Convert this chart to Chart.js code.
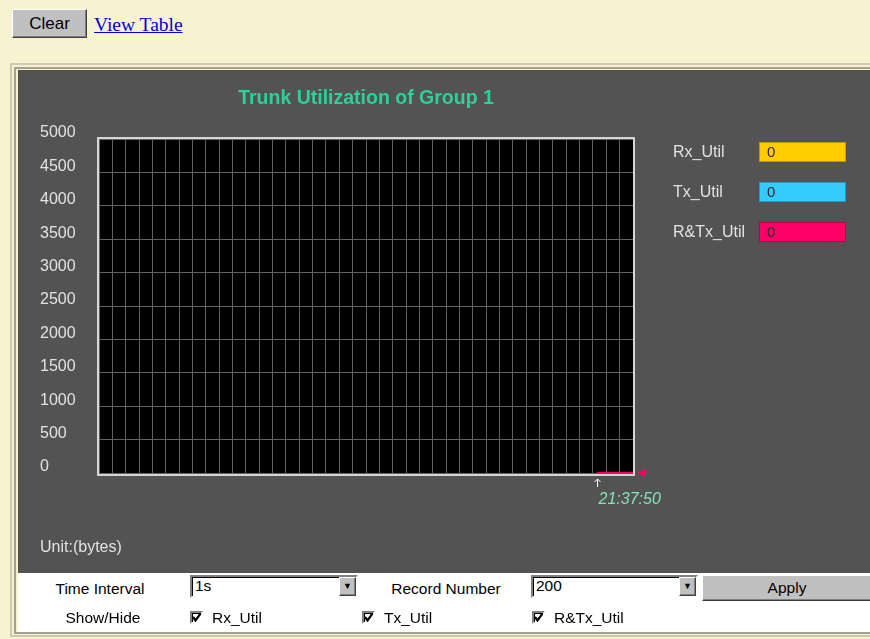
<!DOCTYPE html>
<html>
<head>
<meta charset="utf-8">
<title>Trunk Utilization of Group 1</title>
<script src="https://cdn.jsdelivr.net/npm/chart.js@4.4.1/dist/chart.umd.min.js"></script>
<style>
  body { margin: 0; width: 870px; height: 639px; overflow: hidden; position: relative;
         background: #f7f2cf; font-family: Arial, "Liberation Sans", sans-serif; }
  .abs { position: absolute; }
  .raised { background: #c0c0c0; border: 1px solid; border-color: #fff #404040 #404040 #fff;
            box-shadow: inset -1px -1px #808080; text-align: center; color: #000; box-sizing: border-box; }
  .sunken { background: #fff; border: 2px solid; border-color: #808080 #fff #fff #808080;
            box-shadow: inset 1px 1px #000; box-sizing: border-box; }
  .ctl { font-size: 15.5px; color: #000; white-space: nowrap; }
  .light { color: #e2e2e2; font-size: 16px; white-space: nowrap; }
</style>
</head>
<body>
<div class="abs raised" style="left:12px;top:9px;width:75px;height:29px;line-height:27px;font-size:17px;">Clear</div>
<div class="abs" style="left:94px;top:14px;font-family:'Liberation Serif','Times New Roman',serif;font-size:19.5px;color:#0000ee;text-decoration:underline;">View Table</div>

<div class="abs" style="left:10px;top:63px;width:880px;height:570px;border:2px solid #cbc8b4;"></div>
<div class="abs" style="left:14px;top:67px;width:880px;height:563px;border:2px solid #a3a196;"></div>
<div class="abs" style="left:18px;top:70px;width:852px;height:503px;background:#535353;"></div>
<div class="abs" style="left:18px;top:573px;width:852px;height:59px;background:#fff;"></div>

<canvas id="trunkChart" class="abs" style="left:18px;top:70px;" width="852" height="503"></canvas>

<div id="legendBox"></div>
<div class="abs light" style="left:40px;top:538px;">Unit:(bytes)</div>

<div class="abs ctl" style="left:40px;top:580px;width:120px;text-align:center;">Time Interval</div>
<div class="abs sunken ctl" style="left:190px;top:575px;width:168px;height:23px;line-height:18px;padding-left:3px;">
  <span id="intervalText"></span>
  <div class="abs raised" style="right:0px;top:0px;width:17px;height:19px;font-size:9px;line-height:17px;">&#9660;</div>
</div>
<div class="abs ctl" style="left:386px;top:580px;width:120px;text-align:center;">Record Number</div>
<div class="abs sunken ctl" style="left:531px;top:575px;width:167px;height:23px;line-height:18px;padding-left:3px;">
  <span id="recordText"></span>
  <div class="abs raised" style="right:0px;top:0px;width:17px;height:19px;font-size:9px;line-height:17px;">&#9660;</div>
</div>
<div class="abs raised ctl" style="left:702px;top:575px;width:170px;height:26px;line-height:24px;">Apply</div>
<div class="abs ctl" style="left:43px;top:609px;width:120px;text-align:center;">Show/Hide</div>
<div id="checkRow"></div>

<script>
// series shown in the graph
const seriesNames = ["Rx_Util", "Tx_Util", "R&Tx_Util"];
const seriesColors = ["#ffcc00", "#33ccff", "#ff0066"];

// sample positions along the 40-column time window
const sampleX = [37.3, 38.3, 39.3, 40];
const rxUtil = [0, 0, 0, 0];
const txUtil = [0, 0, 0, 0];
const rtxUtil = [0, 0, 0, 0];

const yTickLabels = ["0", "500", "1000", "1500", "2000", "2500", "3000", "3500", "4000", "4500", "5000"];
const timeLabel = "21:37:50";
const timeInterval = "1s";
const recordNumber = "200";

const seriesValues = [rxUtil, txUtil, rtxUtil];

// legend boxes with the current value
var legendHtml = "";
seriesNames.forEach(function (name, i) {
  var vals = seriesValues[i];
  var top = 142 + i * 40;
  legendHtml += '<div class="abs light" style="left:673px;top:' + (top + 1) + 'px;">' + name.replace("&", "&amp;") + '</div>';
  legendHtml += '<div class="abs" style="left:759px;top:' + top + 'px;width:87px;height:20px;box-sizing:border-box;border:1px solid rgba(0,0,0,0.25);background:' +
    seriesColors[i] + ';font-size:15px;line-height:18px;padding-left:7px;color:#3a2a2a;">' + vals[vals.length - 1] + '</div>';
});
document.getElementById("legendBox").innerHTML = legendHtml;

document.getElementById("intervalText").textContent = timeInterval;
document.getElementById("recordText").textContent = recordNumber;

// show/hide checkboxes
var checkX = [190, 362, 532];
var checkHtml = "";
seriesNames.forEach(function (name, i) {
  checkHtml += '<div class="abs sunken" style="left:' + checkX[i] + 'px;top:611px;width:13px;height:13px;">' +
    '<svg width="9" height="9" style="position:absolute;left:0;top:0"><path d="M1 4 L3.5 7.5 L8.5 0.5" stroke="#000" stroke-width="2.2" fill="none"/></svg></div>';
  checkHtml += '<div class="abs ctl" style="left:' + (checkX[i] + 22) + 'px;top:609px;">' + name.replace("&", "&amp;") + '</div>';
});
document.getElementById("checkRow").innerHTML = checkHtml;

// black plot area, frame, current value marker and time stamp
const plotFrame = {
  id: "plotFrame",
  beforeDraw(chart) {
    const { ctx, chartArea: a } = chart;
    ctx.save();
    ctx.fillStyle = "#000";
    ctx.fillRect(a.left, a.top, a.width, a.height);
    ctx.restore();
  },
  beforeDatasetsDraw(chart) {
    const { ctx, chartArea: a } = chart;
    ctx.save();
    ctx.strokeStyle = "#d6d6d6";
    ctx.lineWidth = 2;
    ctx.strokeRect(a.left - 1, a.top - 1, a.width + 2, a.height + 3);
    ctx.restore();
  },
  afterDraw(chart) {
    const { ctx, chartArea: a, scales } = chart;
    ctx.save();
    // marker for last R&Tx value
    const my = scales.y.getPixelForValue(rtxUtil[rtxUtil.length - 1]);
    ctx.fillStyle = seriesColors[2];
    ctx.beginPath();
    ctx.moveTo(a.right + 4, my);
    ctx.lineTo(a.right + 13, my - 4);
    ctx.lineTo(a.right + 13, my + 4);
    ctx.closePath();
    ctx.fill();
    // arrow under the first sample
    const tx = Math.round(scales.x.getPixelForValue(sampleX[0])) + 0.5;
    ctx.strokeStyle = "#ffffff";
    ctx.lineWidth = 1;
    ctx.beginPath();
    ctx.moveTo(tx, a.bottom + 6);
    ctx.lineTo(tx, a.bottom + 14);
    ctx.moveTo(tx - 3, a.bottom + 9);
    ctx.lineTo(tx, a.bottom + 6);
    ctx.lineTo(tx + 3, a.bottom + 9);
    ctx.stroke();
    ctx.fillStyle = "#88e0b8";
    ctx.font = "italic 16px Arial, 'Liberation Sans', sans-serif";
    ctx.textAlign = "left";
    ctx.textBaseline = "middle";
    ctx.fillText(timeLabel, tx + 1, a.bottom + 27);
    ctx.restore();
  },
};

var ctx = document.getElementById("trunkChart").getContext("2d");
var trunkChart = new Chart(ctx, {
  type: "line",
  data: {
    datasets: seriesNames.map(function (name, i) {
      return {
        label: name,
        data: sampleX.map(function (x, k) { return { x: x, y: seriesValues[i][k] }; }),
        borderColor: seriesColors[i],
        borderWidth: 2,
        pointRadius: 0,
        fill: false,
        clip: false,
        order: seriesNames.length - i,
      };
    }),
  },
  options: {
    responsive: false,
    animation: false,
    layout: { padding: { left: 22, right: 237, bottom: 100, top: 0 } },
    plugins: {
      legend: { display: false },
      tooltip: { enabled: false },
      title: {
        display: true,
        text: "Trunk Utilization of Group 1",
        color: "#2fcf9a",
        fullSize: false,
        font: { family: "Arial, 'Liberation Sans', sans-serif", size: 19.5, weight: "bold" },
        padding: { top: 17.3, bottom: 28.3 },
      },
    },
    scales: {
      x: {
        type: "linear",
        min: 0,
        max: 40,
        ticks: { display: false, stepSize: 1, maxTicksLimit: 41, autoSkip: false },
        grid: { color: "#626262", drawTicks: false },
        border: { display: false },
        afterFit: function (s) { s.height = 0; },
      },
      y: {
        min: 0,
        max: 5000,
        ticks: {
          stepSize: 500,
          color: "#e2e2e2",
          crossAlign: "far",
          labelOffset: -6,
          padding: 0,
          font: { family: "Arial, 'Liberation Sans', sans-serif", size: 16 },
          callback: function (v, i) { return yTickLabels[i]; },
        },
        grid: { color: "#626262", drawTicks: false },
        border: { display: false },
        afterFit: function (s) { s.width = 59; },
      },
    },
  },
  plugins: [plotFrame],
});
</script>
</body>
</html>
